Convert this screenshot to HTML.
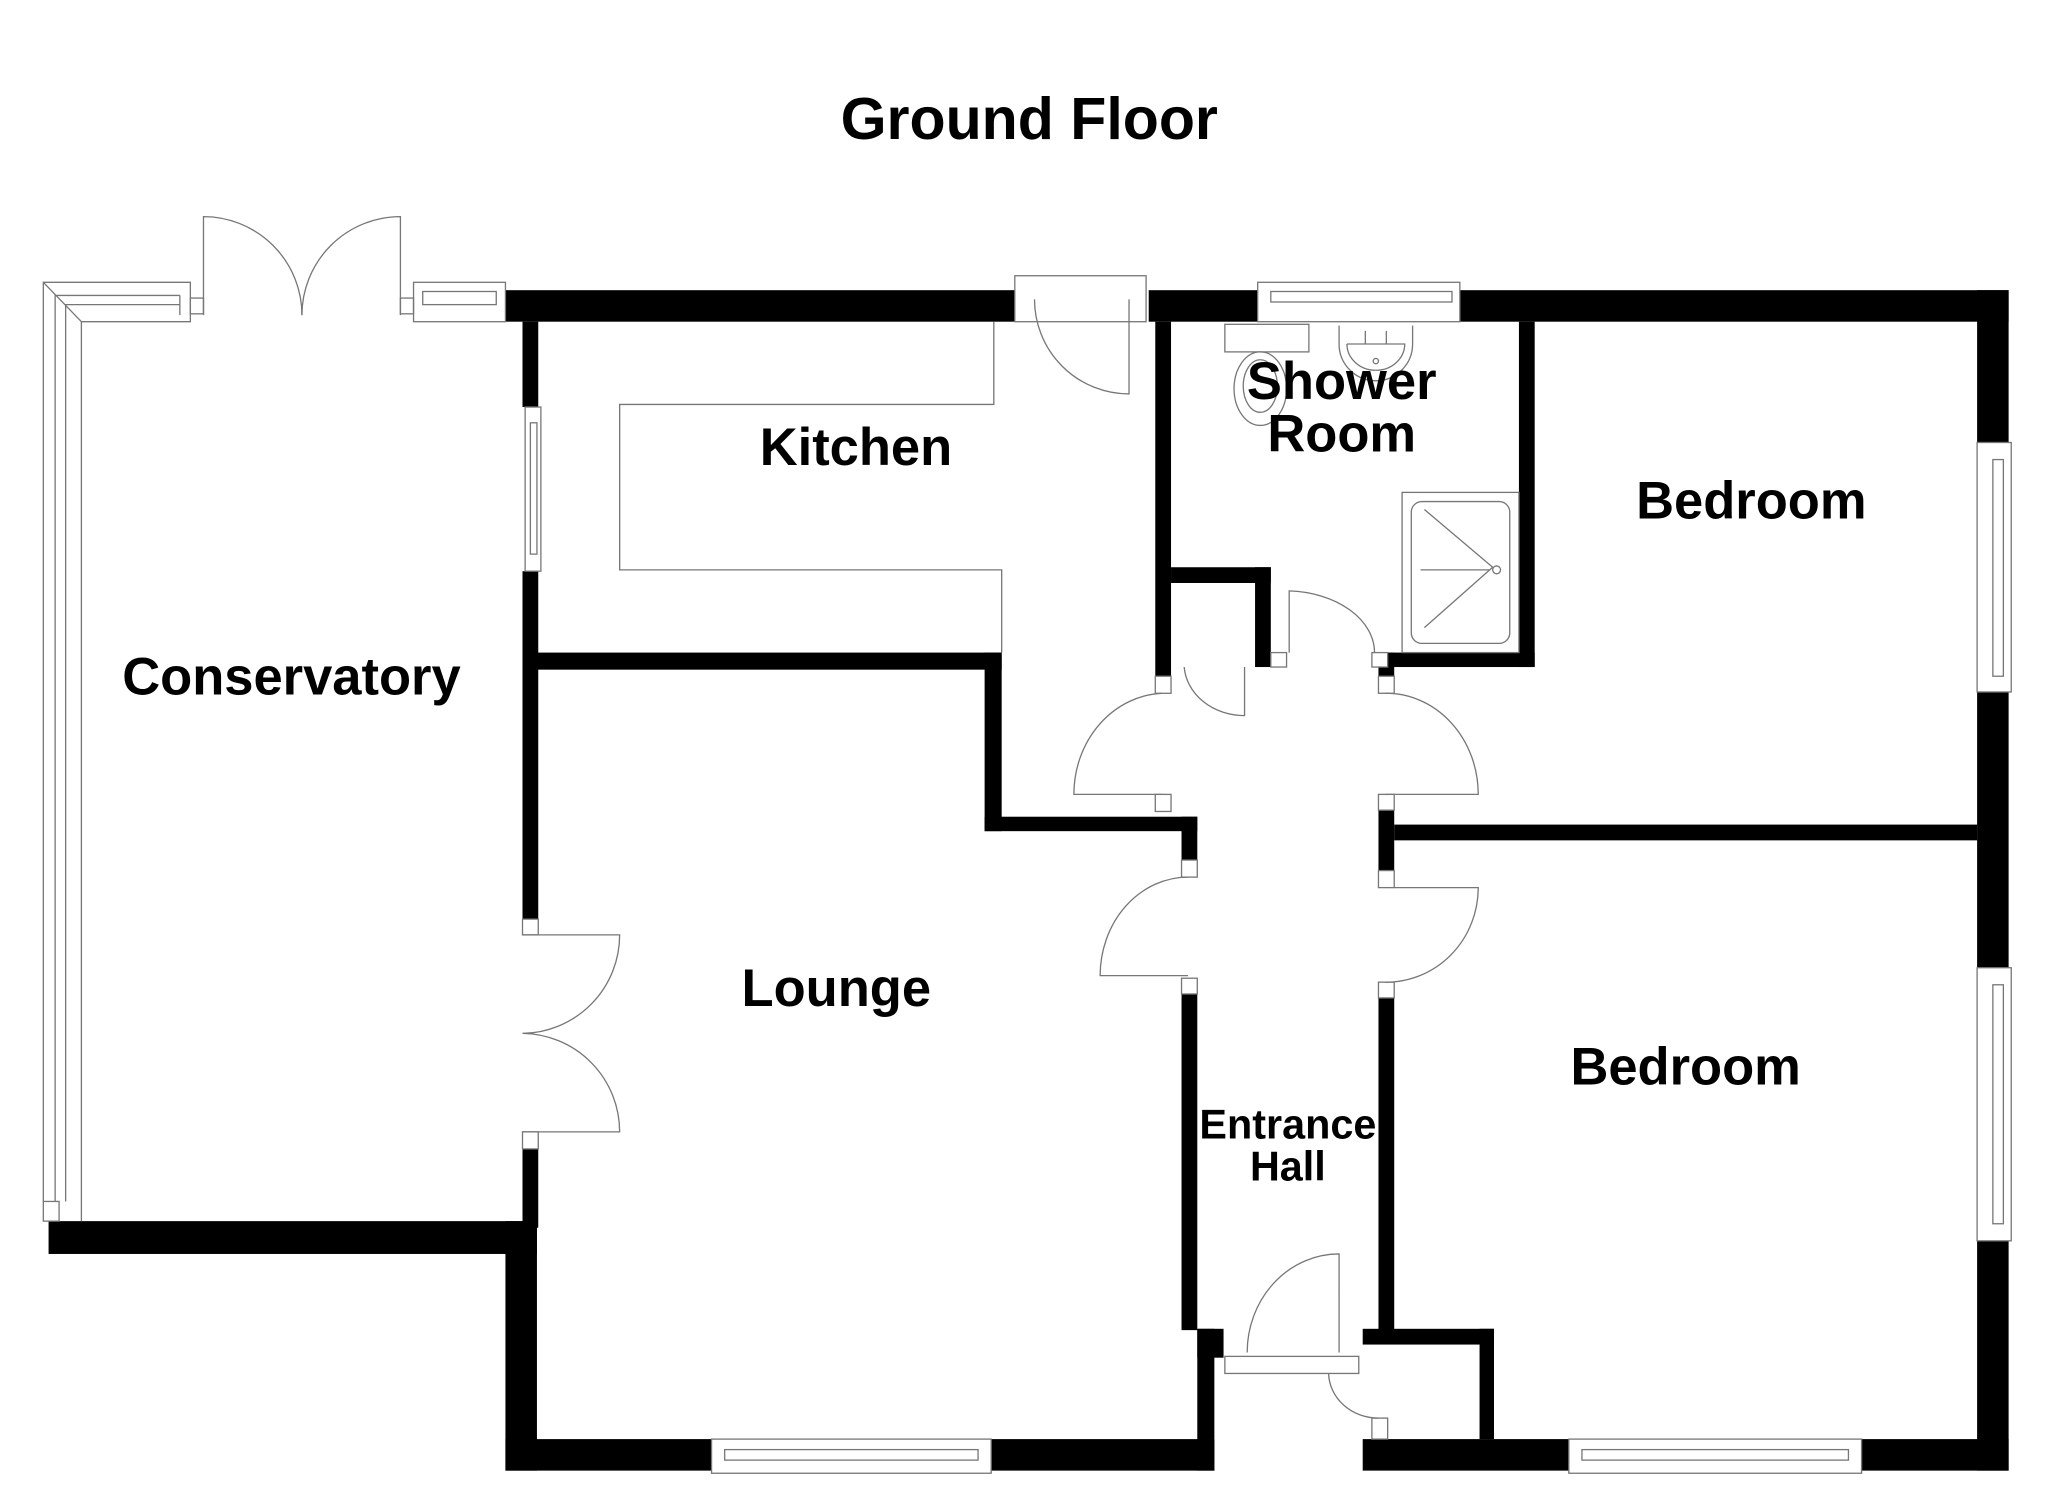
<!DOCTYPE html>
<html><head><style>html,body{margin:0;padding:0;background:#fff}svg{display:block}</style></head><body>
<svg width="2048" height="1489" viewBox="0 0 1560 1134" preserveAspectRatio="none" xmlns="http://www.w3.org/2000/svg">
<rect width="1560" height="1134" fill="#fff"/>
<g fill="#000">
<rect x="385" y="221" width="388" height="24"/>
<rect x="875" y="221" width="83" height="24"/>
<rect x="1112" y="221" width="418" height="24"/>
<rect x="1506" y="221" width="24" height="116"/>
<rect x="1506" y="527" width="24" height="210"/>
<rect x="1506" y="945" width="24" height="175"/>
<rect x="385" y="1096" width="157" height="24"/>
<rect x="755" y="1096" width="170" height="24"/>
<rect x="1038" y="1096" width="157" height="24"/>
<rect x="1418" y="1096" width="112" height="24"/>
<rect x="385" y="930" width="24" height="190"/>
<rect x="37" y="930" width="372" height="25"/>
<rect x="398" y="245" width="12" height="65"/>
<rect x="398" y="435" width="12" height="265"/>
<rect x="398" y="875" width="12" height="60"/>
<rect x="409" y="497" width="354" height="13"/>
<rect x="750" y="497" width="13" height="136"/>
<rect x="750" y="622" width="162" height="11"/>
<rect x="900" y="622" width="12" height="33"/>
<rect x="880" y="245" width="12" height="270"/>
<rect x="892" y="432" width="76" height="12"/>
<rect x="956" y="432" width="12" height="76"/>
<rect x="1157" y="245" width="12" height="263"/>
<rect x="1057" y="497" width="112" height="11"/>
<rect x="1050" y="497" width="12" height="18"/>
<rect x="1062" y="628" width="444" height="12"/>
<rect x="1050" y="617" width="12" height="46"/>
<rect x="1050" y="760" width="12" height="255"/>
<rect x="1038" y="1012" width="100" height="12"/>
<rect x="1127" y="1012" width="11" height="84"/>
<rect x="900" y="757" width="12" height="256"/>
<rect x="912" y="1012" width="20" height="22"/>
<rect x="912" y="1012" width="13" height="108"/>
</g>
<g fill="#fff" stroke="#777" stroke-width="1">
<rect x="880" y="515" width="12" height="13"/><rect x="880" y="605" width="12" height="13"/>
<rect x="1050" y="515" width="12" height="13"/><rect x="1050" y="605" width="12" height="12"/>
<rect x="900" y="655" width="12" height="13"/><rect x="900" y="745" width="12" height="12"/>
<rect x="1050" y="663" width="12" height="13"/><rect x="1050" y="748" width="12" height="12"/>
<rect x="968" y="497" width="12" height="11"/><rect x="1045" y="497" width="12" height="11"/>
<rect x="398" y="700" width="12" height="12"/><rect x="398" y="862" width="12" height="13"/>
<rect x="1045" y="1080" width="12" height="16"/>
<rect x="958" y="215" width="154" height="30"/><rect x="968" y="222" width="138" height="8"/>
<rect x="1506" y="337" width="26" height="190"/><rect x="1518" y="350" width="8" height="165"/>
<rect x="1506" y="737" width="26" height="208"/><rect x="1518" y="750" width="8" height="182"/>
<rect x="542" y="1096" width="213" height="26"/><rect x="552" y="1104" width="193" height="8"/>
<rect x="1195" y="1096" width="223" height="26"/><rect x="1205" y="1104" width="203" height="8"/>
<rect x="400" y="310" width="12" height="125"/><rect x="404" y="322" width="5" height="100"/>
<rect x="315" y="215" width="70" height="30"/><rect x="322" y="222" width="56" height="10"/>
<rect x="773" y="210" width="100" height="35"/>
<rect x="933" y="1033" width="102" height="13"/>
<rect x="1068" y="375" width="89" height="122"/>
<rect x="1075" y="382" width="75" height="108" rx="8"/>
<rect x="933" y="247" width="64" height="21"/>
</g>
<g fill="none" stroke="#777" stroke-width="1">
<path d="M33,915 L33,215 L145,215 L145,245 L62,245 L62,930"/>
<path d="M42,915 L42,225 L137,225 M50,915 L50,232 L137,232 M33,215 L62,245 M137,225 L137,240"/>
<rect x="33" y="915" width="12" height="15"/>
<rect x="145" y="227" width="10" height="12"/><rect x="305" y="227" width="10" height="12"/>
<path d="M155,240 L155,165 A75,75 0 0 1 230,240"/>
<path d="M305,240 L305,165 A75,75 0 0 0 230,240"/>
<path d="M398,712 L472,712 L472,712 A75,75 0 0 1 398,787"/>
<path d="M398,862 L472,862 A75,75 0 0 0 398,787"/>
<path d="M757,245 L757,308 L472,308 L472,434 L763,434 L763,497"/>
<path d="M860,228 L860,300 A72,72 0 0 1 788,228"/>
<path d="M885,528 A70,77 0 0 0 818,605 L885,605"/>
<path d="M1055,528 A70,77 0 0 1 1126,605 L1055,605"/>
<path d="M905,668 A67,75 0 0 0 838,743 L905,743"/>
<path d="M1055,748 A70,72 0 0 0 1126,676 L1062,676"/>
<path d="M982,497 L982,450 A68,47 0 0 1 1047,497"/>
<path d="M948,508 L948,545 A46,40 0 0 1 902,508"/>
<path d="M1020,1030 L1020,955 A70,75 0 0 0 950,1030"/>
<path d="M1012,1046 A38,35 0 0 0 1050,1080"/>
<path d="M1085,388 L1137,432 L1085,478 M1082,434 L1135,434"/>
<circle cx="1140" cy="434" r="3"/>
<ellipse cx="960" cy="296" rx="20" ry="28"/><ellipse cx="960" cy="294" rx="13" ry="20"/>
<path d="M1020,248 L1020,262 A28,28 0 0 0 1076,262 L1076,248"/>
<path d="M1026,262 A22,20 0 0 0 1070,262 L1026,262"/>
<path d="M1040,262 L1040,252 M1056,262 L1056,252"/>
<circle cx="1048" cy="275" r="2"/>
</g>
<g font-family="Liberation Sans, sans-serif" font-weight="bold" fill="#000" text-anchor="middle">
<text x="784" y="106" font-size="45">Ground Floor</text>
<text x="652" y="354" font-size="40">Kitchen</text>
<text x="1022" y="304" font-size="40">Shower</text>
<text x="1022" y="344" font-size="40">Room</text>
<text x="1334" y="395" font-size="40">Bedroom</text>
<text x="222" y="529" font-size="40">Conservatory</text>
<text x="637" y="766" font-size="40">Lounge</text>
<text x="1284" y="826" font-size="40">Bedroom</text>
<text x="981" y="867" font-size="31.5">Entrance</text>
<text x="981" y="899" font-size="31.5">Hall</text>
</g>
</svg>
</body></html>
